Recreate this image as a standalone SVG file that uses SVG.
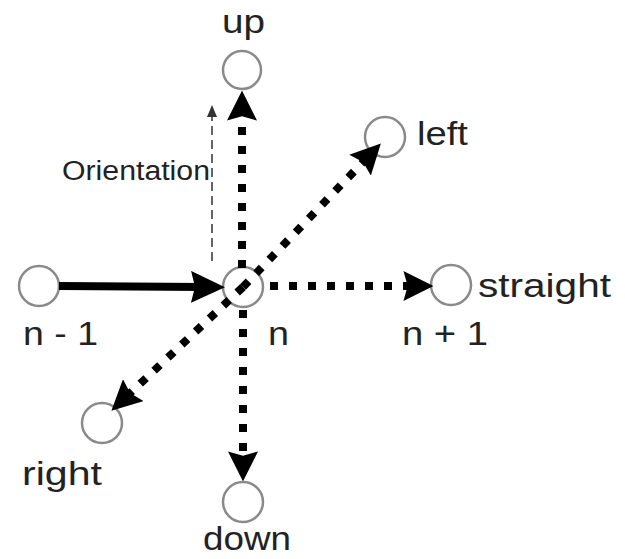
<svg xmlns="http://www.w3.org/2000/svg" width="625" height="559" viewBox="0 0 625 559">
<defs>
<style>
.node{fill:none;stroke:#8a8a8a;stroke-width:2.5}
.lbl{font-family:"Liberation Sans",Arial,sans-serif;font-size:33px;fill:#222}
.small{font-family:"Liberation Sans",Arial,sans-serif;font-size:27px;fill:#222}
.dot{fill:none;stroke:#000;stroke-width:8;stroke-dasharray:8 11;marker-end:url(#head)}
.solid{fill:none;stroke:#000;stroke-width:8;marker-end:url(#bighead)}
.orient{fill:none;stroke:#333;stroke-width:1.5;stroke-dasharray:9 5;marker-end:url(#thin)}
</style>
<marker id="head" markerUnits="userSpaceOnUse" markerWidth="30" markerHeight="30" viewBox="0 0 28 28" refX="8" refY="14" orient="auto">
<path d="M0,0 L28,14 L0,28 L4,14 Z" fill="#000"/>
</marker>
<marker id="bighead" markerUnits="userSpaceOnUse" markerWidth="34" markerHeight="32" viewBox="0 0 34 32" refX="12" refY="16" orient="auto">
<path d="M0,0 L34,16 L0,32 L4,16 Z" fill="#000"/>
</marker>
<marker id="thin" markerUnits="userSpaceOnUse" markerWidth="12" markerHeight="10" viewBox="0 0 12 10" refX="2" refY="5" orient="auto">
<path d="M0,0 L12,5 L0,10 Z" fill="#333"/>
</marker>
</defs>
<rect width="625" height="559" fill="#fff"/>
<g id="node-prev"><circle class="node" cx="39" cy="286" r="20"/><text class="lbl" x="23" y="345" textLength="75" lengthAdjust="spacingAndGlyphs">n - 1</text></g>
<g id="node-n"><circle class="node" cx="243" cy="287" r="20"/><text class="lbl" x="268" y="345" textLength="21" lengthAdjust="spacingAndGlyphs">n</text></g>
<g id="node-up"><circle class="node" cx="242" cy="70" r="19"/><text class="lbl" x="222" y="33" textLength="43" lengthAdjust="spacingAndGlyphs">up</text></g>
<g id="node-left"><circle class="node" cx="385" cy="137" r="20"/><text class="lbl" x="417" y="145" textLength="51" lengthAdjust="spacingAndGlyphs">left</text></g>
<g id="node-straight"><circle class="node" cx="451" cy="285" r="20"/><text class="lbl" x="478" y="297" textLength="133" lengthAdjust="spacingAndGlyphs">straight</text><text class="lbl" x="402" y="345" textLength="86" lengthAdjust="spacingAndGlyphs">n + 1</text></g>
<g id="node-right"><circle class="node" cx="102" cy="423" r="20"/><text class="lbl" x="22" y="485" textLength="80" lengthAdjust="spacingAndGlyphs">right</text></g>
<g id="node-down"><circle class="node" cx="243" cy="502" r="20"/><text class="lbl" x="203" y="550" font-size="31" textLength="88" lengthAdjust="spacingAndGlyphs">down</text></g>
<g id="connectors">
<line class="solid" x1="59" y1="286" x2="203" y2="287"/>
<line class="dot" x1="242" y1="268" x2="242" y2="112"/>
<line class="dot" x1="243" y1="310" x2="243" y2="460"/>
<line class="dot" x1="270" y1="286" x2="412" y2="286"/>
<line class="dot" x1="243" y1="287" x2="366" y2="159"/>
<line class="dot" x1="243" y1="287" x2="127" y2="396"/>
<line class="orient" x1="212" y1="261" x2="212" y2="115"/>
<text class="small" x="62" y="180" textLength="148" lengthAdjust="spacingAndGlyphs">Orientation</text>
</g>
</svg>
